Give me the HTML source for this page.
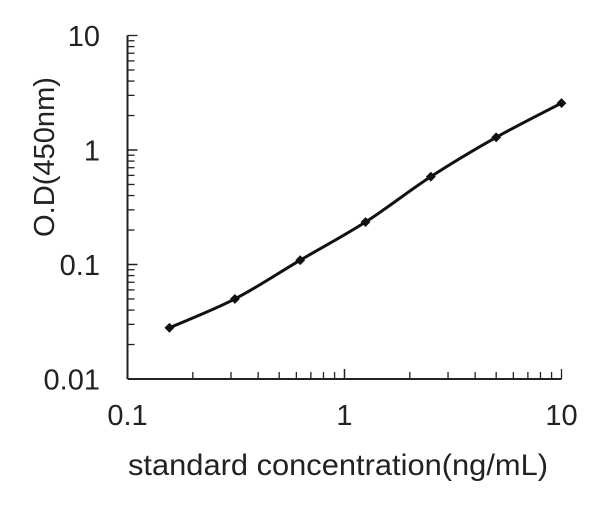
<!DOCTYPE html>
<html><head><meta charset="utf-8"><style>
html,body{margin:0;padding:0;background:#fff;}
svg text{font-family:"Liberation Sans",Arial,sans-serif;fill:#222;}
</style></head><body>
<svg id="chart" width="600" height="515" viewBox="0 0 600 515" xmlns="http://www.w3.org/2000/svg">
<g id="axes"></g>
<g id="plot"></g>
<text x="0" y="0" font-size="29" text-anchor="middle" textLength="160" lengthAdjust="spacingAndGlyphs" transform="translate(54,157) rotate(-90)">O.D(450nm)</text>
<text x="338" y="475" font-size="30" text-anchor="middle" textLength="420" lengthAdjust="spacingAndGlyphs">standard concentration(ng/mL)</text>
</svg>
<script>
const concentrations = [0.156, 0.3125, 0.625, 1.25, 2.5, 5, 10];
const odValues = [0.028, 0.050, 0.109, 0.235, 0.585, 1.29, 2.57];
const xTickLabels = ["0.1", "1", "10"];
const yTickLabels = ["0.01", "0.1", "1", "10"];

const NS = "http://www.w3.org/2000/svg";
const X0 = 127.5, XDEC = 217, Y0 = 379, YDEC = 114.5;
function xs(v){ return X0 + (Math.log10(v) + 1) * XDEC; }
function ys(v){ return Y0 - (Math.log10(v) + 2) * YDEC; }
function mk(tag, attrs, parent){ const e = document.createElementNS(NS, tag); for (const k in attrs) e.setAttribute(k, attrs[k]); parent.appendChild(e); return e; }

const axes = document.getElementById('axes');
const plot = document.getElementById('plot');
let el = mk('line', {x1:X0, y1:Y0, x2:xs(10), y2:Y0, stroke:'#222', 'stroke-width':2}, axes);


el = mk('line', {x1:X0, y1:Y0, x2:X0, y2:ys(10), stroke:'#222', 'stroke-width':2}, axes);



for (let d = -1; d < 1; d++) for (let m = 1; m <= 10; m++) {
  const v = m * Math.pow(10, d); const x = xs(v);
  const t = mk('line', {x1:x, y1:Y0, x2:x, y2:Y0 - ((m===1||m===10)?10:7), stroke:'#222', 'stroke-width':1.3}, axes);
  
  
}
for (let d = -2; d < 1; d++) for (let m = 1; m <= 10; m++) {
  const v = m * Math.pow(10, d); const y = ys(v);
  const t = mk('line', {x1:X0, y1:y, x2:X0 + ((m===1||m===10)?10:7), y2:y, stroke:'#222', 'stroke-width':1.3}, axes);
  
  
}
xTickLabels.forEach(s => {
  const t = mk('text', {x:xs(parseFloat(s)), y:425, 'font-size':29, 'text-anchor':'middle'}, axes);
  t.textContent = s;
  
  
});
yTickLabels.forEach(s => {
  const t = mk('text', {x:100, y:ys(parseFloat(s)) + 10.5, 'font-size':29, 'text-anchor':'end'}, axes);
  t.textContent = s;
  
  
});

const pts = concentrations.map((c, i) => [xs(c), ys(odValues[i])]);
let d = 'M' + pts[0][0] + ',' + pts[0][1];
for (let i = 0; i < pts.length - 1; i++) {
  const p0 = pts[Math.max(0, i-1)], p1 = pts[i], p2 = pts[i+1], p3 = pts[Math.min(pts.length-1, i+2)];
  const c1 = [p1[0] + (p2[0]-p0[0])/6, p1[1] + (p2[1]-p0[1])/6];
  const c2 = [p2[0] - (p3[0]-p1[0])/6, p2[1] - (p3[1]-p1[1])/6];
  d += ` C${c1[0]},${c1[1]} ${c2[0]},${c2[1]} ${p2[0]},${p2[1]}`;
}
el = mk('path', {d:d, fill:'none', stroke:'#111', 'stroke-width':3}, plot);


pts.forEach(p => {
  const m = mk('rect', {x:p[0]-3.5, y:p[1]-3.5, width:7, height:7, fill:'#111', transform:`rotate(45 ${p[0]} ${p[1]})`}, plot);
  
  
});
</script>
</body></html>
